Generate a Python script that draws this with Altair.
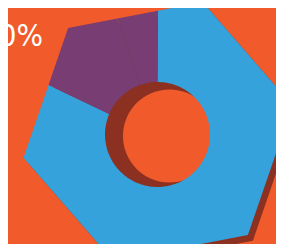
import math
import altair as alt
import pandas as pd

# ---- data ----
segments = ["Blue", "Purple A", "Purple B"]
shares = [81.4, 13.1, 5.5]
seg_colors = ["#35A2DB", "#783D72", "#783D72"]
label_text = ["50%"]

BG = "#F15A2A"
SHADOW = "#8C3121"

W, H = 268, 236
# coordinates below are in page pixels; page margin is 8px
XDOM = [8, 8 + W]
YDOM = [8 + H, 8]

HEX_C = (158.0, 131.5)
HEX_R = 137.0
HEX_OFF = 19.0
HOLE_C = (157.5, 134.5)
HOLE_R = 52.5
SH_OFF = (5.0, 5.8)
SH_HOLE_C = (169.5, 136.0)


def hex_radius(a):
    t = ((a - HEX_OFF) % 60) - 30
    return HEX_R * math.cos(math.radians(30)) / math.cos(math.radians(t))


def pt(c, r, a):
    return (c[0] + r * math.sin(math.radians(a)), c[1] - r * math.cos(math.radians(a)))


# ring segment polygons
rows = []
total = sum(shares)
start = 0.0
for seg, v in zip(segments, shares):
    a0 = start
    a1 = start + 360.0 * v / total
    start = a1
    outer = [a0] + [HEX_OFF + 60 * k for k in range(-1, 8) if a0 < HEX_OFF + 60 * k < a1] + [a1]
    i = 0
    for a in outer:
        x, y = pt(HEX_C, hex_radius(a), a)
        rows.append({"seg": seg, "i": i, "x": x, "y": y}); i += 1
    n = max(2, int((a1 - a0) / 2))
    for k in range(n + 1):
        a = a1 - (a1 - a0) * k / n
        x, y = pt(HOLE_C, HOLE_R, a)
        rows.append({"seg": seg, "i": i, "x": x, "y": y}); i += 1
ring_df = pd.DataFrame(rows)

shadow_rows = []
for k in range(6):
    a = HEX_OFF + 60 * k
    x, y = pt(HEX_C, HEX_R, a)
    shadow_rows.append({"i": k, "x": x + SH_OFF[0], "y": y + SH_OFF[1]})
shadow_df = pd.DataFrame(shadow_rows)

hole_df = pd.DataFrame({"x": [SH_HOLE_C[0]], "y": [SH_HOLE_C[1]]})
text_df = pd.DataFrame({"label": label_text})

xs = alt.Scale(domain=XDOM, nice=False, zero=False)
ys = alt.Scale(domain=YDOM, nice=False, zero=False)

shadow = alt.Chart(shadow_df).mark_line(filled=True, fill=SHADOW, strokeWidth=0, interpolate="linear-closed", clip=True).encode(
    x=alt.X("x:Q", scale=xs, axis=None),
    y=alt.Y("y:Q", scale=ys, axis=None),
    order="i:Q",
)

hole = alt.Chart(hole_df).mark_circle(size=math.pi * HOLE_R ** 2, color=BG, opacity=1, clip=True).encode(
    x=alt.X("x:Q", scale=xs, axis=None),
    y=alt.Y("y:Q", scale=ys, axis=None),
)

ring = alt.Chart(ring_df).mark_line(filled=True, strokeWidth=0, interpolate="linear-closed", clip=True).encode(
    x=alt.X("x:Q", scale=xs, axis=None),
    y=alt.Y("y:Q", scale=ys, axis=None),
    color=alt.Color("seg:N", scale=alt.Scale(domain=segments, range=seg_colors), legend=None),
    detail="seg:N",
    order="i:Q",
)

text = alt.Chart(text_df).mark_text(
    font="DejaVu Sans Condensed, Liberation Sans Narrow, Roboto, sans-serif",
    fontSize=31, color="white", align="right", baseline="alphabetic"
).encode(x=alt.value(43 - 8), y=alt.value(46 - 8), text="label:N")

chart = alt.layer(shadow, hole, ring, text).properties(
    width=W, height=H, padding=0, background=BG, autosize="none"
).configure_view(stroke=None)

chart.save("out.html", embed_options={"renderer": "svg", "actions": False})
